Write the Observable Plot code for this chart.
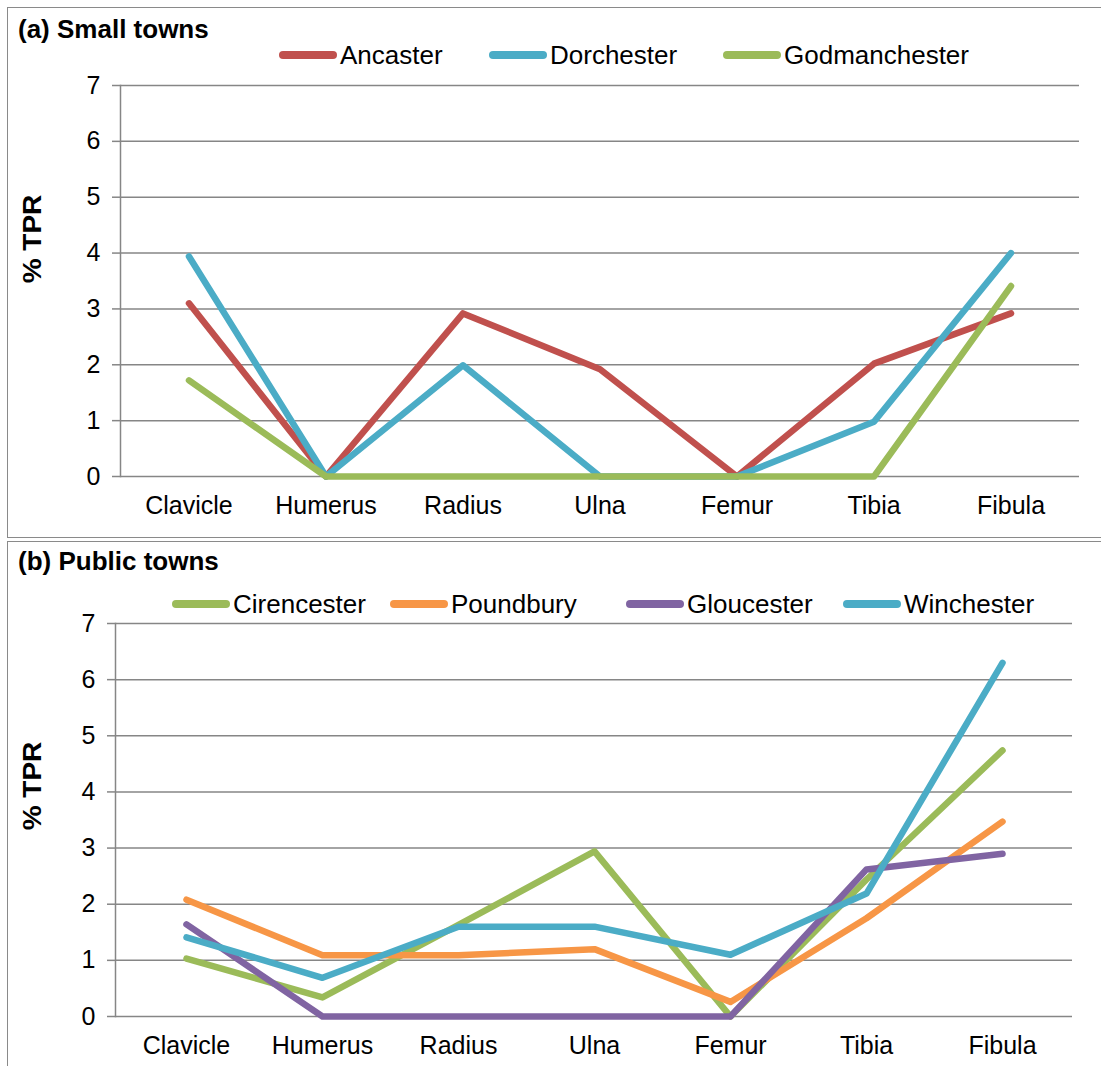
<!DOCTYPE html>
<html>
<head>
<meta charset="utf-8">
<script src="https://cdn.jsdelivr.net/npm/d3@7"></script>
<script src="https://cdn.jsdelivr.net/npm/@observablehq/plot@0.6"></script>
<style>
  html, body { margin: 0; padding: 0; background: #fff; }
  body { width: 1101px; height: 1066px; position: relative; overflow: hidden; font-family: "Liberation Sans", Arial, sans-serif; color: #000; }
  .panel { position: absolute; left: 7px; width: 1100px; border: 1.5px solid #8a8a8a; box-sizing: border-box; }
  .title { position: absolute; left: 18px; font-weight: bold; font-size: 26px; line-height: 26px; white-space: nowrap; }
  .legend { position: absolute; font-size: 26px; line-height: 26px; white-space: nowrap; }
  .legend .item { display: flex; align-items: center; position: absolute; }
  .legend .sw { width: 58px; height: 8px; border-radius: 4px; margin-right: 3px; }
  .ylab { position: absolute; font-weight: bold; font-size: 25px; line-height: 25px; white-space: nowrap; transform: translate(-50%, -50%) rotate(-90deg) scale(1.12, 1); }
  .chart { position: absolute; left: 0; }
</style>
</head>
<body>
<div class="panel" style="top:7px;height:531px;"></div>
<div class="panel" style="top:541px;height:540px;"></div>
<div class="title" style="top:16px;">(a) Small towns</div>
<div class="title" style="top:548px;">(b) Public towns</div>
<div class="ylab" style="left:32px;top:239px;">% TPR</div>
<div class="ylab" style="left:32px;top:786px;">% TPR</div>
<div id="legA" class="legend" style="top:42px;left:0;"></div>
<div id="legB" class="legend" style="top:591px;left:0;"></div>
<div id="chartA" class="chart" style="top:70px;"></div>
<div id="chartB" class="chart" style="top:608px;"></div>
<script>
// ---- Data ----
const bones = ["Clavicle", "Humerus", "Radius", "Ulna", "Femur", "Tibia", "Fibula"];
const yTicks = [0, 1, 2, 3, 4, 5, 6, 7];

const smallTowns = ["Ancaster", "Dorchester", "Godmanchester"];
const smallColors = ["#C0504D", "#4BACC6", "#9BBB59"];
const ancaster      = [3.1, 0, 2.92, 1.92, 0, 2.02, 2.92];
const dorchester    = [3.94, 0, 1.99, 0, 0, 0.98, 4.0];
const godmanchester = [1.72, 0, 0, 0, 0, 0, 3.41];

const publicTowns = ["Cirencester", "Poundbury", "Gloucester", "Winchester"];
const publicColors = ["#9BBB59", "#F79646", "#8064A2", "#4BACC6"];
const cirencester = [1.03, 0.34, 1.63, 2.94, 0, 2.44, 4.74];
const poundbury   = [2.08, 1.09, 1.09, 1.2, 0.26, 1.75, 3.47];
const gloucester  = [1.64, 0, 0, 0, 0, 2.62, 2.9];
const winchester  = [1.41, 0.69, 1.6, 1.6, 1.1, 2.19, 6.3];

// legend x positions (swatch start) — layout only
const legAx = [279, 489, 723];
const legBx = [172, 390, 626, 843];

function tidy(towns, series) {
  const out = [];
  towns.forEach((t, i) => bones.forEach((b, j) => out.push({town: t, bone: b, value: series[i][j]})));
  return out;
}

function chart(data, towns, colors, opts) {
  return Plot.plot({
    width: 1101,
    height: 470,
    marginLeft: opts.ml,
    marginRight: opts.mr,
    marginTop: 15,
    marginBottom: 470 - 15 - opts.ph,
    style: {fontFamily: '"Liberation Sans", Arial, sans-serif', fontSize: "25px", color: "#000", background: "transparent"},
    x: {type: "band", domain: bones, padding: 0, label: null},
    y: {domain: [0, 7], label: null},
    color: {domain: towns, range: colors},
    marks: [
      Plot.gridY(yTicks, {stroke: "#868686", strokeOpacity: 1, strokeWidth: 1.5}),
      Plot.frame({anchor: "left", stroke: "#868686", strokeWidth: 1.5}),
      Plot.axisY(yTicks, {tickSize: 8, tickPadding: 12, tickFormat: "d", stroke: "#868686", strokeWidth: 1.5, fill: "#000", fontSize: 25, label: null}),
      Plot.axisX({tickSize: 0, tickPadding: 20, fill: "#000", fontSize: 25, label: null}),
      Plot.line(data, {x: "bone", y: "value", z: "town", stroke: "town", strokeWidth: 6.5, strokeLinejoin: "round", strokeLinecap: "round"})
    ]
  });
}

function legend(el, towns, colors, xs) {
  towns.forEach((t, i) => {
    const it = document.createElement("div");
    it.className = "item";
    it.style.left = xs[i] + "px";
    it.style.top = "0px";
    it.innerHTML = `<div class="sw" style="background:${colors[i]}"></div><span>${t}</span>`;
    el.appendChild(it);
  });
}

document.getElementById("chartA").appendChild(
  chart(tidy(smallTowns, [ancaster, dorchester, godmanchester]), smallTowns, smallColors, {ml: 120, mr: 22, ph: 391}));
document.getElementById("chartB").appendChild(
  chart(tidy(publicTowns, [cirencester, poundbury, gloucester, winchester]), publicTowns, publicColors, {ml: 115, mr: 29, ph: 393}));
legend(document.getElementById("legA"), smallTowns, smallColors, legAx);
legend(document.getElementById("legB"), publicTowns, publicColors, legBx);
</script>
</body>
</html>
